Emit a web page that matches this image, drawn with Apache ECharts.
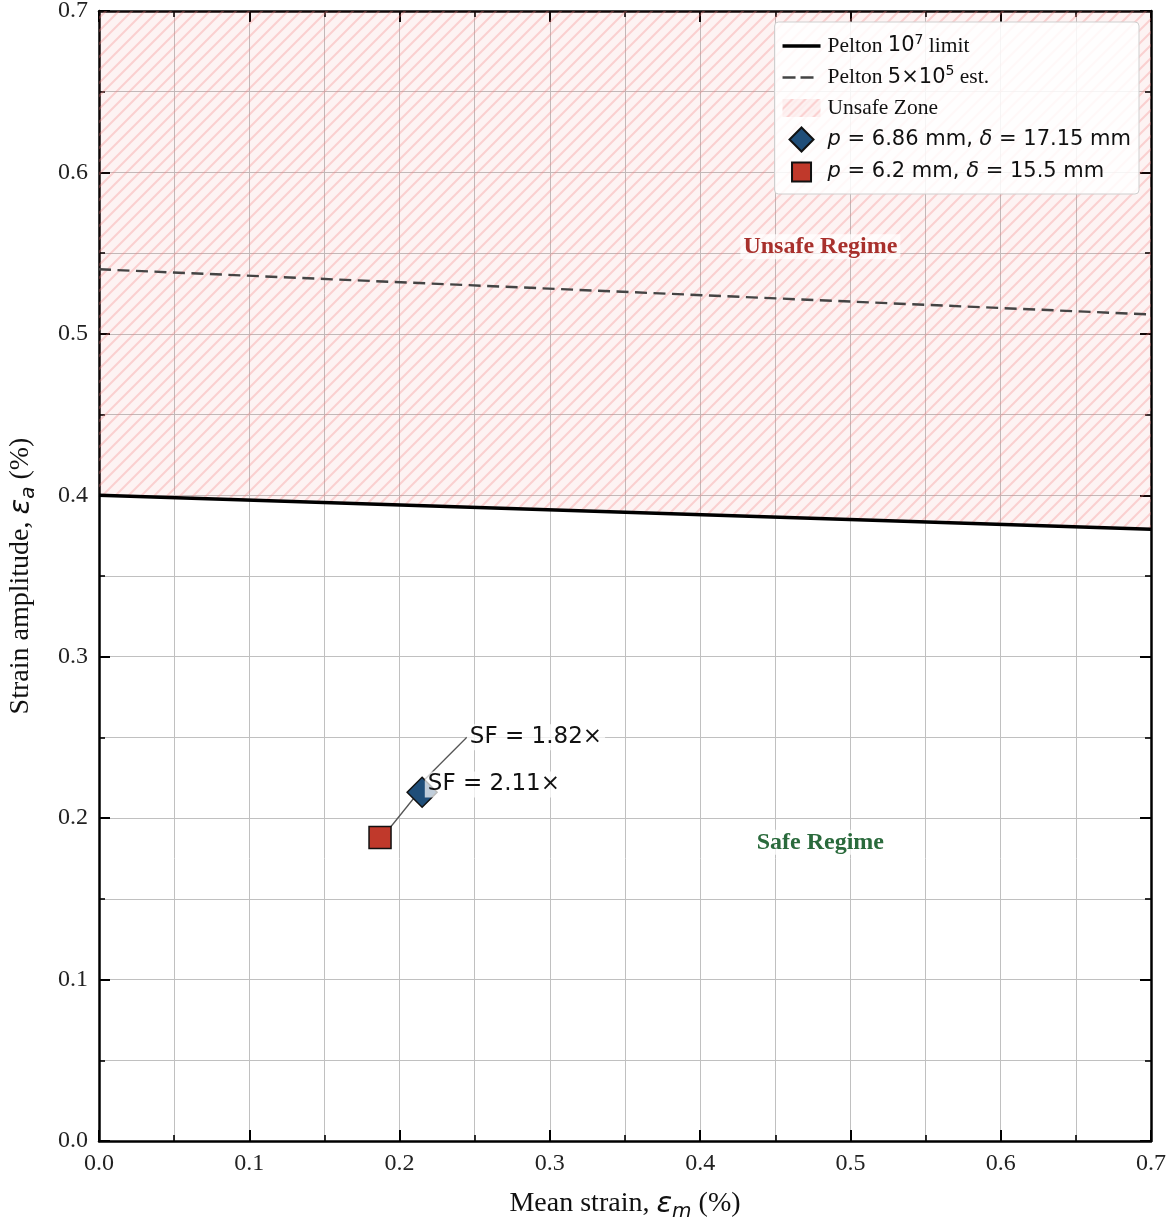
<!DOCTYPE html>
<html>
<head>
<meta charset="utf-8">
<script src="https://cdn.jsdelivr.net/npm/echarts@6/dist/echarts.min.js"></script>
<style>
  html, body { margin: 0; padding: 0; background: #ffffff; }
  #chart { width: 1174px; height: 1219px; }
</style>
</head>
<body>
<div id="chart"></div>
<script>
// Mean strain (%) at the ends of the Pelton lines
const meanStrain = [0.0, 0.7];
// Pelton 10^7-cycle limit and 5x10^5-cycle estimate, strain amplitude (%)
const pelton1e7 = [0.400, 0.379];
const pelton5e5 = [0.540, 0.512];

// Design points: strut pitch p and deflection delta (mm)
const designLabels = ['p = 6.86 mm, δ = 17.15 mm', 'p = 6.2 mm, δ = 15.5 mm'];
const designMean = [0.215, 0.187];
const designAmp = [0.216, 0.188];
const safetyFactor = [1.82, 2.11];

// Axis ticks
const axisMin = 0.0;
const axisMax = 0.7;
const tickStep = 0.1;

// Region labels [x, y, text]
const regimeLabels = [
  [0.48, 0.554, 'Unsafe Regime'],
  [0.48, 0.185, 'Safe Regime']
];

const SERIF = '"Liberation Serif", "DejaVu Serif", serif';
const SANS = '"DejaVu Sans", sans-serif';

// Diagonal "/" hatch used for the unsafe zone
function makeHatch() {
  const n = 13;
  const c = document.createElement('canvas');
  c.width = n; c.height = n;
  const g = c.getContext('2d');
  g.fillStyle = 'rgba(232, 90, 90, 0.075)';
  g.fillRect(0, 0, n, n);
  g.strokeStyle = 'rgba(246, 130, 130, 0.30)';
  g.lineWidth = 2.1;
  g.beginPath();
  for (let k = -1; k <= 1; k++) {
    g.moveTo(-2, n + 2 + k * n);
    g.lineTo(n + 2, -2 + k * n);
  }
  g.stroke();
  return c;
}
const hatch = { image: makeHatch(), repeat: 'repeat' };

const chart = echarts.init(document.getElementById('chart'), null, { renderer: 'canvas' });

const richLegend = {
  s: { fontFamily: SERIF, fontSize: 21.5, color: '#111', lineHeight: 26 },
  m: { fontFamily: SANS, fontSize: 21, color: '#111', lineHeight: 26 },
  i: { fontFamily: SANS, fontSize: 21, fontStyle: 'italic', color: '#111', lineHeight: 26 },
  sup: { fontFamily: SANS, fontSize: 14, color: '#111', lineHeight: 14, verticalAlign: 'top' }
};

const legendText = {
  'Pelton 10⁷ limit': '{s|Pelton }{m|10}{sup|7}{s| limit}',
  'Pelton 5×10⁵ est.': '{s|Pelton }{m|5×10}{sup|5}{s| est.}',
  'Unsafe Zone': '{s|Unsafe Zone}',
  [designLabels[0]]: '{i|p}{m| = 6.86 mm, }{i|δ}{m| = 17.15 mm}',
  [designLabels[1]]: '{i|p}{m| = 6.2 mm, }{i|δ}{m| = 15.5 mm}'
};

// Legend glyphs laid out in a 40x24 box (the leading moves fix the box size)
const ICON_BOX = 'M0,0M40,24';
const legendIcons = {
  solid: 'path://' + ICON_BOX + 'M0,10.2L38,10.2L38,13.8L0,13.8Z',
  dashed: 'path://' + ICON_BOX + 'M0,10.7L13,10.7L13,13.3L0,13.3Z M18,10.7L31,10.7L31,13.3L18,13.3Z',
  patch: 'path://' + ICON_BOX + 'M0,3L38,3L38,21L0,21Z',
  diamond: 'path://' + ICON_BOX + 'M19,0L31,12L19,24L7,12Z',
  square: 'path://' + ICON_BOX + 'M9.5,2.5L28.5,2.5L28.5,21.5L9.5,21.5Z'
};

const richAxisName = {
  s: { fontFamily: SERIF, fontSize: 28, color: '#111', lineHeight: 36 },
  i: { fontFamily: SANS, fontSize: 29, fontStyle: 'italic', color: '#111', lineHeight: 36 },
  sub: { fontFamily: SANS, fontSize: 20, fontStyle: 'italic', color: '#111', lineHeight: 20, verticalAlign: 'bottom' }
};

function baseAxis(extra) {
  return Object.assign({
    type: 'value',
    min: axisMin,
    max: axisMax,
    interval: tickStep,
    axisLine: { show: true, onZero: false, lineStyle: { color: '#000', width: 2.5 } },
    axisTick: { show: true, inside: true, length: 11, lineStyle: { color: '#000', width: 2 } },
    minorTick: { show: true, splitNumber: 2, length: 6, lineStyle: { color: '#000', width: 1.6 } },
    splitLine: { show: true, lineStyle: { color: '#c0c0c0', width: 1 } },
    minorSplitLine: { show: true, lineStyle: { color: '#c0c0c0', width: 1 } },
    axisLabel: {
      show: true, margin: 11, fontFamily: SERIF, fontSize: 24, color: '#222',
      formatter: v => v.toFixed(1)
    }
  }, extra);
}

function mirrorAxis(pos) {
  return baseAxis({
    position: pos,
    splitLine: { show: false },
    minorSplitLine: { show: false },
    axisLabel: { show: false }
  });
}

const pointStyles = [
  { symbol: 'diamond', size: 30, color: '#1f4e79', dx: 24, dy: -55 },
  { symbol: 'rect', size: 22, color: '#c0392b', dx: 28, dy: -53 }
];

const designSeries = designLabels.map((name, k) => ({
  name: name,
  type: 'scatter',
  z: 5,
  symbol: pointStyles[k].symbol,
  symbolSize: pointStyles[k].size,
  itemStyle: { color: pointStyles[k].color, borderColor: '#111', borderWidth: 1.5, opacity: 1 },
  data: [[designMean[k], designAmp[k], safetyFactor[k]]],
  label: {
    show: true,
    position: 'right',
    distance: 5,
    formatter: p => 'SF = ' + p.value[2].toFixed(2) + '×',
    fontFamily: SANS,
    fontSize: 23,
    color: '#111',
    backgroundColor: 'rgba(255,255,255,0.72)',
    padding: [2, 3, 1, 3]
  },
  labelLayout: { dx: pointStyles[k].dx, dy: pointStyles[k].dy },
  labelLine: { show: true, lineStyle: { color: '#555', width: 1.3 } }
}));

const option = {
  backgroundColor: '#ffffff',
  animation: false,
  grid: { left: 99, right: 23, top: 11, bottom: 78, containLabel: false, outerBoundsMode: 'none' },
  xAxis: [
    baseAxis({
      position: 'bottom',
      name: '{s|Mean strain, }{i|ε}{sub|m}{s| (%)}',
      nameLocation: 'middle',
      nameGap: 45,
      nameTextStyle: { rich: richAxisName }
    }),
    mirrorAxis('top')
  ],
  yAxis: [
    baseAxis({
      position: 'left',
      name: '{s|Strain amplitude, }{i|ε}{sub|a}{s| (%)}',
      nameLocation: 'middle',
      nameGap: 60,
      nameTextStyle: { rich: richAxisName }
    }),
    mirrorAxis('right')
  ],
  legend: {
    orient: 'vertical',
    right: 35,
    top: 22,
    selectedMode: false,
    backgroundColor: 'rgba(255,255,255,0.85)',
    borderColor: '#cfcfcf',
    borderWidth: 1,
    borderRadius: 4,
    padding: [11, 8, 9, 7],
    itemGap: 6.5,
    itemWidth: 40,
    itemHeight: 24,
    data: [
      { name: 'Pelton 10⁷ limit', icon: legendIcons.solid },
      { name: 'Pelton 5×10⁵ est.', icon: legendIcons.dashed },
      { name: 'Unsafe Zone', icon: legendIcons.patch },
      { name: designLabels[0], icon: legendIcons.diamond },
      { name: designLabels[1], icon: legendIcons.square }
    ],
    formatter: name => legendText[name] || name,
    textStyle: { rich: richLegend }
  },
  series: [
    {
      name: 'Unsafe Zone',
      type: 'custom',
      z: 1,
      silent: true,
      itemStyle: { color: hatch },
      data: meanStrain.map((x, i) => [x, pelton1e7[i]]),
      encode: { x: 0, y: 1 },
      clip: true,
      renderItem: (params, api) => {
        if (params.dataIndex !== 0) return null;
        const pts = meanStrain.map((x, i) => api.coord([x, pelton1e7[i]]));
        pts.push(api.coord([meanStrain[meanStrain.length - 1], axisMax]));
        pts.push(api.coord([meanStrain[0], axisMax]));
        return { type: 'polygon', shape: { points: pts }, style: { fill: hatch } };
      }
    },
    {
      name: 'Pelton 10⁷ limit',
      type: 'line',
      z: 3,
      symbol: 'none',
      lineStyle: { color: '#000', width: 3.6 },
      itemStyle: { color: '#000' },
      data: meanStrain.map((x, i) => [x, pelton1e7[i]]),
      markPoint: {
        silent: true,
        symbol: 'rect',
        symbolSize: 1,
        itemStyle: { color: 'rgba(0,0,0,0)' },
        data: regimeLabels.map((r, k) => ({
          coord: [r[0], r[1]],
          label: {
            show: true,
            position: 'inside',
            formatter: r[2],
            fontFamily: SERIF,
            fontWeight: 'bold',
            fontSize: 24,
            color: k === 0 ? '#a8302c' : '#2a6a3c',
            backgroundColor: 'rgba(255,255,255,0.72)',
            padding: [1, 3, 0, 3]
          }
        }))
      }
    },
    {
      name: 'Pelton 5×10⁵ est.',
      type: 'line',
      z: 3,
      symbol: 'none',
      lineStyle: { color: '#444', width: 2.4, type: [12, 6.5] },
      itemStyle: { color: '#444' },
      data: meanStrain.map((x, i) => [x, pelton5e5[i]])
    },
    ...designSeries
  ]
};

chart.setOption(option);
</script>
</body>
</html>
